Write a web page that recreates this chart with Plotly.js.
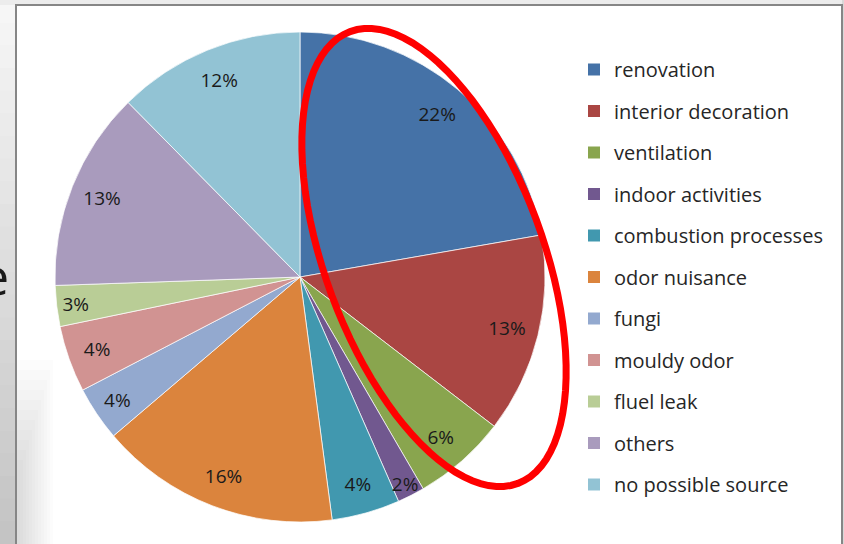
<!DOCTYPE html>
<html>
<head>
<meta charset="utf-8">
<script src="https://cdn.plot.ly/plotly-3.0.1.min.js"></script>
<style>html,body{margin:0;padding:0;background:#fff;}#chart{width:844px;height:544px;}</style>
</head>
<body>
<div id="chart"></div>
<script>
// ---- data ----
const categories = ["renovation", "interior decoration", "ventilation", "indoor activities",
  "combustion processes", "odor nuisance", "fungi", "mouldy odor", "fluel leak", "others",
  "no possible source"];
const shares = [22.3, 13.2, 6.2, 1.8, 4.5, 15.9, 3.6, 4.4, 2.7, 13.2, 12.4];
const colors = ["#4572A7", "#AA4643", "#89A54E", "#71588F", "#4198AF", "#DB843D",
  "#93A9CF", "#D19392", "#B9CD96", "#A99BBD", "#92C3D4"];

// ---- layout constants (pixels) ----
const W = 844, H = 544;
const CX = 300, CY = 277, R = 245;
const FONT = "Open Sans, Noto Sans, sans-serif";

const pieDomain = {
  x: [(CX - R) / W, (CX + R) / W],
  y: [1 - (CY + R) / H, 1 - (CY - R) / H]
};

const traces = [];
// main pie
traces.push({
  type: "pie", labels: categories, values: shares, sort: false,
  direction: "clockwise", rotation: 0, domain: pieDomain,
  marker: {colors: colors, line: {color: "rgba(255,255,255,0.7)", width: 1}},
  textinfo: "none", showlegend: false, hoverinfo: "label+percent"
});
// label ring (transparent) so percent labels sit near the rim
traces.push({
  type: "pie", labels: categories, values: shares, sort: false,
  direction: "clockwise", rotation: 0, domain: pieDomain, hole: 0.74,
  marker: {colors: categories.map(() => "rgba(0,0,0,0)"), line: {width: 0}},
  texttemplate: "%{percent:.0%}", textposition: "inside",
  insidetextorientation: "horizontal",
  textfont: {family: FONT, size: 19, color: "#1a1a1a"},
  showlegend: false, hoverinfo: "skip"
});
// legend entries
categories.forEach((c, i) => {
  traces.push({
    type: "scatter", mode: "markers", x: [null], y: [null], name: c,
    legendgroup: "g" + i, xaxis: "x", yaxis: "y",
    marker: {symbol: "square", size: 12, color: colors[i]},
    hoverinfo: "skip"
  });
});

// ---- decoration shapes ----
const shapes = [];
// grey slide background strips (left shadow gradient)
const bands = 24;
for (let k = 0; k < bands; k++) {
  const t = k / (bands - 1);
  const g = Math.round(246 - t * 50);
  shapes.push({type: "rect", xref: "x", yref: "y", layer: "below",
    x0: 0, x1: 16, y0: k * H / bands, y1: (k + 1) * H / bands + 1,
    fillcolor: `rgb(${g},${g},${g})`, line: {width: 0}});
}
shapes.push({type: "rect", xref: "x", yref: "y", layer: "below",
  x0: 0, x1: W, y0: 0, y1: 5, fillcolor: "#ececec", line: {width: 0}});
shapes.push({type: "rect", xref: "x", yref: "y", layer: "below",
  x0: 842, x1: W, y0: 0, y1: H, fillcolor: "#d8d8d8", line: {width: 0}});
// white frame
shapes.push({type: "rect", xref: "x", yref: "y", layer: "below",
  x0: 16, x1: 842, y0: 5, y1: H + 10, fillcolor: "#ffffff",
  line: {color: "#868686", width: 2}});
// faint inner shadow bottom-left
for (let k = 0; k < 12; k++) {
  shapes.push({type: "rect", xref: "x", yref: "y", layer: "below",
    x0: 17, x1: 17 + (12 - k) * 3, y0: 360 + k * 10, y1: H,
    fillcolor: "rgba(150,150,150,0.03)", line: {width: 0}});
}
// red highlight ellipse
const ecx = 434, ecy = 257.5, ea = 241, eb = 109, eth = 20.35 * Math.PI / 180;
let p = "";
for (let k = 0; k <= 96; k++) {
  const t = 2 * Math.PI * k / 96;
  const ux = Math.sin(eth), uy = Math.cos(eth);
  const vx = Math.cos(eth), vy = -Math.sin(eth);
  const x = ecx + ea * Math.cos(t) * ux + eb * Math.sin(t) * vx;
  const y = ecy + ea * Math.cos(t) * uy + eb * Math.sin(t) * vy;
  p += (k === 0 ? "M" : "L") + x.toFixed(2) + "," + y.toFixed(2);
}
p += "Z";
shapes.push({type: "path", xref: "x", yref: "y", layer: "above", path: p,
  line: {color: "#ff0000", width: 7}, fillcolor: "rgba(0,0,0,0)"});

const layout = {
  width: W, height: H,
  margin: {l: 0, r: 0, t: 0, b: 0, pad: 0},
  paper_bgcolor: "#ffffff", plot_bgcolor: "rgba(0,0,0,0)",
  font: {family: FONT, color: "#222"},
  xaxis: {range: [0, W], visible: false, fixedrange: true},
  yaxis: {range: [H, 0], visible: false, fixedrange: true},
  showlegend: true,
  legend: {x: (614 - 40) / W, xanchor: "left", y: 1 - 50 / H, yanchor: "top",
    traceorder: "grouped", tracegroupgap: 12.5, bgcolor: "rgba(0,0,0,0)",
    font: {family: FONT, size: 20, color: "#262626"}},
  uniformtext: {minsize: 19, mode: "show"},
  shapes: shapes,
  annotations: [{xref: "x", yref: "y", x: 11, y: 274, xanchor: "right", yanchor: "middle",
    text: "e", showarrow: false, font: {family: FONT, size: 52, color: "#1a1a1a"}}]
};

Plotly.newPlot("chart", traces, layout, {staticPlot: true, displayModeBar: false});
</script>
</body>
</html>
